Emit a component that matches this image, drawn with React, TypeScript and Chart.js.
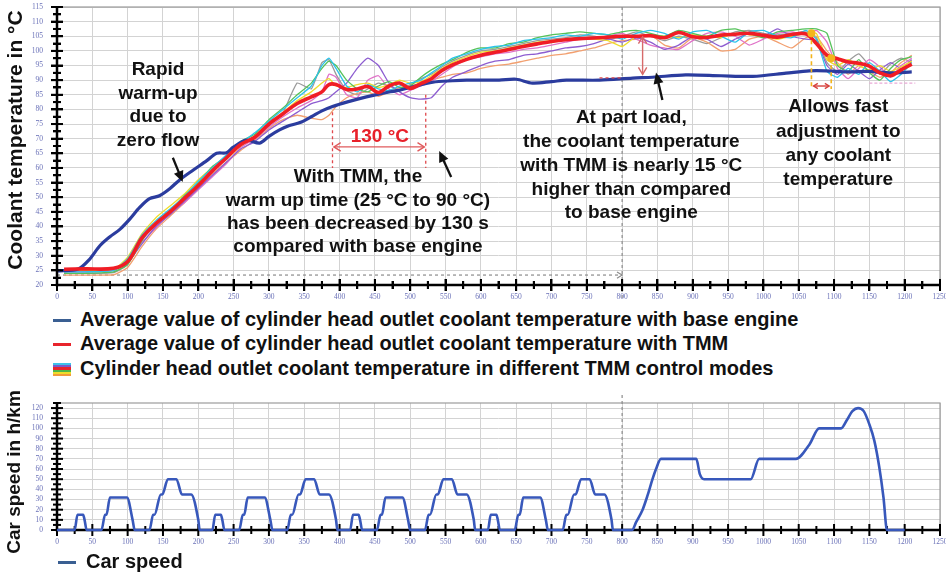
import React, { useEffect, useRef, useState } from "react";
import { Chart, registerables } from "chart.js";

Chart.register(...registerables);

// ---------------- data ----------------
const TMM_TIME_S = [
  10, 40, 80,
  100, 120, 140, 160, 180, 200, 220, 240, 260, 280, 300, 320, 340, 360,
  375, 385, 395,
  410, 425, 440, 455, 470, 485, 500, 515, 530, 545,
  560, 580, 600, 620, 640, 660, 680, 700, 720, 740, 760, 780, 800, 820, 840, 860, 880, 900, 920, 940, 960, 980, 1000, 1020, 1040, 1060,
  1075, 1090, 1105, 1120, 1135, 1150, 1165, 1180, 1195, 1210,
];
const TMM_AVG_C = [
  25.4, 25.5, 25.7,
  28, 36, 41, 45, 49.5, 54, 59, 63.5, 68, 70.5, 75, 78.5, 82, 84.3,
  86, 88.5, 88.5,
  86.8, 87, 87.8, 85.8, 88, 89, 87.2, 88.8, 90.5, 93.3,
  95.2, 97.1, 98.5, 99.5, 100.5, 101.5, 102.4, 103.2, 103.8, 104.2, 104.4, 104.7, 105, 105, 105.2, 104.5, 106.3, 104.8, 104.6, 105.4, 105.7, 106, 105.3, 104.7, 105.6, 105.8,
  102.5, 98.5, 97.3, 96.2, 95.8, 94.8, 92.5, 91.5, 93.5, 95.5,
];
const MODE_CYAN_C = [
  24.5, 24.5, 25,
  29, 37, 42, 46, 50, 55.5, 60, 64.5, 68.5, 72, 76, 80, 84, 88,
  95, 97.5, 94,
  88, 86, 88.5, 87, 86.5, 88, 89, 90, 92.5, 95,
  97.5, 99, 100.5, 101.5, 102, 103.5, 104, 104.5, 105.5, 105, 106, 105.5, 104, 106, 107, 106, 104, 106.5, 107, 105, 103, 106.5, 107, 105, 104.5, 107,
  104, 93, 91, 94, 92, 96, 93, 89.5, 92, 96,
];
const MODE_GREEN_C = [
  24, 24, 24.5,
  27, 35, 41.5, 45.5, 50.5, 55, 60.5, 64, 69, 71.5, 76.5, 80.5, 85, 89,
  94, 96.5, 95,
  90, 87, 86, 88, 89.5, 87.5, 88, 91, 93.5, 95.5,
  97, 99.5, 101, 101, 102.5, 103, 104.5, 105.5, 106, 106.5, 106, 105.5, 106.5, 107, 106, 105, 107, 106, 105, 107, 107.5, 106, 104.5, 106.5, 107, 107.5,
  107.5, 106, 95, 93, 97, 92.5, 90, 94, 97, 98,
];
const MODE_PURPLE_C = [
  24.5, 24.5, 25,
  27.5, 34, 40, 44, 48.5, 53, 57.5, 62, 66.5, 69, 73, 76, 79, 82,
  83, 84, 86,
  89, 94, 97.5, 95, 89, 86, 84, 83.5, 84, 88,
  91, 93, 95, 96.5, 97, 98.5, 99, 100, 101, 101.5, 102.5, 104, 103, 104.5, 103, 100.5, 102, 105, 104, 101.5, 104, 106, 105, 107.5, 105, 104,
  103.5, 95, 92, 95.5, 93, 90.5, 93.5, 96, 94, 97,
];
const MODE_MAGENTA_C = [
  25, 25, 25.5,
  28, 34.5, 39.5, 44.5, 48, 52.5, 57, 61.5, 67, 70, 74, 77.5, 80.5, 83,
  86, 92, 91,
  85, 84, 90, 91.5, 87, 85, 86.5, 88, 89.5, 92,
  94.5, 97, 98, 99, 99.5, 100.5, 101, 102, 103, 104, 104.5, 105, 106, 104, 102, 101, 100.5, 103.5, 106, 106.5, 105, 102, 104, 106, 106.5, 105.5,
  107, 103, 94, 90.5, 94, 97, 94.5, 91, 95, 97.5,
];
const MODE_ORANGE_C = [
  23.4, 23.4, 23.5,
  26, 33, 39, 43.5, 48, 53, 58, 62, 66, 69.5, 73.5, 76.5, 78, 77,
  76.5, 78, 81,
  84, 85.5, 86, 84.5, 86, 87.5, 88, 89, 90, 91,
  92, 92.5, 94, 95, 95.5, 96.5, 97.5, 98.5, 99, 100, 101, 102.5, 103.5, 104, 105.5, 102, 101, 104.5, 103, 100, 100.5, 104, 105, 103, 101, 104.5,
  105, 100, 96, 92, 95, 93, 91, 92.5, 96, 98.5,
];
const MODE_YELLOW_C = [
  25, 25, 25.3,
  29.5, 37.5, 43, 47, 51, 56, 60, 63, 67.5, 71, 75.5, 79, 83, 86,
  89, 90.5, 88,
  87.5, 88.5, 89, 87.5, 88.5, 90, 89, 89.5, 91.5, 94,
  96, 98, 99.5, 100, 101, 102, 103, 103.5, 104, 104.5, 104, 103.5, 101.5, 105, 105.5, 105, 104.5, 105.5, 105, 104.5, 106, 105.5, 105, 104, 105, 106,
  106, 97, 95, 97, 95, 93.5, 95, 93, 94.5, 96.5,
];
const MODE_GRAY_C = [
  24, 24, 24.2,
  27, 35.5, 40.5, 45, 49, 54.5, 59.5, 63, 68, 70, 74.5, 79, 89, 87,
  96, 97, 92,
  86.5, 85, 87, 89, 88, 86.5, 88.5, 90.5, 92, 94.5,
  96.5, 98.5, 100, 100.5, 101.5, 102.5, 103.5, 104, 104.5, 105.5, 105, 104, 105, 106.5, 105, 103.5, 105, 104, 102.5, 104.5, 106.5, 107, 106, 105.5, 106, 106.5,
  104.5, 96, 93, 96.5, 99, 95, 92, 95.5, 97.5, 96,
];
const FLAT_MODE_TIME_S = [1150, 1215];
const FLAT_MODE_C = [89, 89];

const BASE_TIME_S = [
  0, 30, 45, 61, 75, 89, 103, 117, 131, 145, 160, 174, 193, 212, 226, 240, 249, 268, 287, 300,
  315, 329, 344, 360, 375, 390, 410, 438, 460, 485, 500, 532, 560, 580, 626, 650, 673, 700, 721, 768,
  815, 843, 890, 940, 985, 1032, 1065, 1089, 1120, 1150, 1180, 1210,
];
const BASE_TEMP_C = [
  24.8, 25.5, 28.5, 33.5, 36.5, 39, 42.5, 46.5, 49.5, 50.5, 53, 56, 59.3, 62.5, 65, 65.2, 67, 69.5, 68.5, 70.8,
  73, 74.5, 75.5, 77.5, 79.5, 81, 82.5, 84.3, 85.5, 86.6, 87.5, 89.3, 89.8, 90, 90, 90.3, 89, 89.5, 90, 90,
  90.7, 91, 91.8, 91.5, 91.3, 92.4, 93.2, 93.2, 92.8, 93, 92.5, 92.8,
];

const SPEED_TIME_S = [
  0, 25, 29, 37, 39, 42, 63, 68, 70, 75, 99, 107, 110, 131, 136, 138, 147, 149, 157, 169, 177, 190, 200, 202,
  220, 224, 232, 234, 237, 258, 263, 265, 270, 294, 302, 305, 326, 331, 333, 342, 344, 352, 364, 372, 385, 395, 397,
  415, 419, 427, 429, 432, 453, 458, 460, 465, 489, 497, 500, 521, 526, 528, 537, 539, 547, 559, 567, 580, 590, 592,
  610, 614, 622, 624, 627, 648, 653, 655, 660, 684, 692, 695, 716, 721, 723, 732, 734, 742, 754, 762, 775, 785, 787,
  814, 820, 829, 836, 843, 848, 855, 905, 910, 916, 982, 994, 1046, 1065, 1079, 1110, 1118, 1126, 1134, 1142, 1150, 1157, 1164, 1170, 1175, 1200,
];
const SPEED_KMH = [
  0, 0, 15, 15, 10, 0, 0, 15, 15, 32, 32, 10, 0, 0, 15, 15, 35, 35, 50, 50, 35, 35, 10, 0,
  0, 15, 15, 10, 0, 0, 15, 15, 32, 32, 10, 0, 0, 15, 15, 35, 35, 50, 50, 35, 35, 10, 0,
  0, 15, 15, 10, 0, 0, 15, 15, 32, 32, 10, 0, 0, 15, 15, 35, 35, 50, 50, 35, 35, 10, 0,
  0, 15, 15, 10, 0, 0, 15, 15, 32, 32, 10, 0, 0, 15, 15, 35, 35, 50, 50, 35, 35, 10, 0,
  0, 8, 20, 34, 50, 60, 70, 70, 55, 50, 50, 70, 70, 84, 100, 100, 108, 117, 120, 117, 104, 88, 62, 32, 0, 0,
];

const TIME_TICKS = [0, 50, 100, 150, 200, 250, 300, 350, 400, 450, 500, 550, 600, 650, 700, 750, 800, 850, 900, 950, 1000, 1050, 1100, 1150, 1200, 1250];
const TEMP_TICKS = [20, 25, 30, 35, 40, 45, 50, 55, 60, 65, 70, 75, 80, 85, 90, 95, 100, 105, 110, 115];
const SPEED_TICKS = [0, 10, 20, 30, 40, 50, 60, 70, 80, 90, 100, 110, 120];
const SPEED_MAX = 125;
const DIVIDER_S = 800;

const TOP_TITLE = "Coolant temperature in °C";
const BOTTOM_TITLE = "Car speed in h/km";
const LEGEND_BASE = "Average value of cylinder head outlet coolant temperature with base engine";
const LEGEND_TMM = "Average value of cylinder head outlet coolant temperature with TMM";
const LEGEND_MODES = "Cylinder head outlet coolant temperature in different TMM control modes";
const LEGEND_SPEED = "Car speed";

const NOTE_ZERO_FLOW = ["Rapid", "warm-up", "due to", "zero flow"];
const NOTE_WARMUP = ["With TMM, the", "warm up time (25 °C to 90 °C)", "has been decreased by 130 s", "compared with base engine"];
const NOTE_PART_LOAD = ["At part load,", "the coolant temperature", "with TMM is nearly 15 °C", "higher than compared", "to base engine"];
const NOTE_FAST = ["Allows fast", "adjustment to", "any coolant", "temperature"];
const NOTE_130 = "130 °C";

// ---------------- helpers ----------------
const SANS = '"Liberation Sans", Arial, Helvetica, sans-serif';
const TICK_FONT = '7.5px "Liberation Serif", serif';
const TICK_COLOR = "#6b72b8";
const GRID_COLOR = "#d3d3d3";
const BOTTOM_CANVAS_TOP = 385;

type Box = { l: number; t: number; w: number; h: number };

const pts = (xs: number[], ys: number[]) => xs.map((x, i) => ({ x, y: ys[i] }));

function seg(ctx: CanvasRenderingContext2D, x1: number, y1: number, x2: number, y2: number) {
  ctx.beginPath();
  ctx.moveTo(x1, y1);
  ctx.lineTo(x2, y2);
  ctx.stroke();
}
function chevron(ctx: CanvasRenderingContext2D, x: number, y: number, ang: number, L: number) {
  ctx.beginPath();
  ctx.moveTo(x - L * Math.cos(ang - 0.55), y - L * Math.sin(ang - 0.55));
  ctx.lineTo(x, y);
  ctx.lineTo(x - L * Math.cos(ang + 0.55), y - L * Math.sin(ang + 0.55));
  ctx.stroke();
}
function doubleArrow(ctx: CanvasRenderingContext2D, x1: number, y1: number, x2: number, y2: number, L: number) {
  seg(ctx, x1, y1, x2, y2);
  const a = Math.atan2(y2 - y1, x2 - x1);
  chevron(ctx, x2, y2, a, L);
  chevron(ctx, x1, y1, a + Math.PI, L);
}
function filledArrow(ctx: CanvasRenderingContext2D, x1: number, y1: number, x2: number, y2: number) {
  const a = Math.atan2(y2 - y1, x2 - x1);
  const L = 11;
  const W = 5;
  ctx.strokeStyle = "#111";
  ctx.fillStyle = "#111";
  ctx.lineWidth = 2.3;
  seg(ctx, x1, y1, x2 - Math.cos(a) * L * 0.7, y2 - Math.sin(a) * L * 0.7);
  ctx.beginPath();
  ctx.moveTo(x2, y2);
  ctx.lineTo(x2 - L * Math.cos(a) + W * Math.sin(a), y2 - L * Math.sin(a) - W * Math.cos(a));
  ctx.lineTo(x2 - L * Math.cos(a) - W * Math.sin(a), y2 - L * Math.sin(a) + W * Math.cos(a));
  ctx.closePath();
  ctx.fill();
}
function textBlock(ctx: CanvasRenderingContext2D, lines: string[], cx: number, cy: number, lh: number) {
  lines.forEach((l, i) => ctx.fillText(l, cx, cy + i * lh));
}
function drawLabels(chart: any, yTicks: number[]) {
  const ctx = chart.ctx;
  const a = chart.chartArea;
  const sx = chart.scales.x;
  const sy = chart.scales.y;
  ctx.save();
  ctx.fillStyle = TICK_COLOR;
  ctx.font = TICK_FONT;
  ctx.textAlign = "right";
  ctx.textBaseline = "middle";
  yTicks.forEach((v) => ctx.fillText(String(v), a.left - 14, sy.getPixelForValue(v)));
  ctx.textAlign = "center";
  TIME_TICKS.forEach((t) => ctx.fillText(String(t), sx.getPixelForValue(t), a.bottom + 12.5));
  ctx.restore();
}
// black "ladder" axes, computed from the chart's own scales
function ladderBoxes(chart: any, offsetY: number, y0: number, yMax: number, minorY: number, majorY: number): Box[] {
  const a = chart.chartArea;
  const sx = chart.scales.x;
  const sy = chart.scales.y;
  const out: Box[] = [];
  out.push({ l: a.left - 1.25, t: offsetY + a.top, w: 2.5, h: a.bottom - a.top + 1.25 });
  out.push({ l: a.left - 1.25, t: offsetY + a.bottom - 1.25, w: a.right - a.left + 1.25, h: 2.5 });
  for (let v = y0; v <= yMax + 1e-6; v += minorY) {
    const yy = sy.getPixelForValue(v);
    const big = Math.abs(v / majorY - Math.round(v / majorY)) < 1e-6;
    const len = big ? 6 : 4;
    out.push({ l: a.left - len, t: offsetY + yy - 1, w: len * 2, h: 2 });
  }
  for (let t = 0; t <= 1250; t += 25) {
    const xx = sx.getPixelForValue(t);
    const len = t % 50 === 0 ? 6 : 4;
    out.push({ l: xx - 1, t: offsetY + a.bottom - len, w: 2, h: len * 2 });
  }
  return out;
}
function drawLadder(chart: any, y0: number, yMax: number, minorY: number, majorY: number) {
  const ctx = chart.ctx;
  ctx.save();
  ctx.globalAlpha = 1;
  ctx.globalCompositeOperation = "source-over";
  ctx.fillStyle = "#000";
  ladderBoxes(chart, 0, y0, yMax, minorY, majorY).forEach((b) => ctx.fillRect(b.l, b.t, b.w, b.h));
  ctx.restore();
}
function drawTitle(chart: any, text: string, cx: number, cy: number, size: number) {
  const ctx = chart.ctx;
  ctx.save();
  ctx.translate(cx, cy);
  ctx.rotate(-Math.PI / 2);
  ctx.font = `bold ${size}px ${SANS}`;
  ctx.fillStyle = "#111";
  ctx.textAlign = "center";
  ctx.textBaseline = "middle";
  ctx.fillText(text, 0, 0);
  ctx.restore();
}

const topDecor = {
  id: "topDecor",
  beforeDatasetsDraw(chart: any) {
    const ctx = chart.ctx;
    const a = chart.chartArea;
    const x = chart.scales.x;
    const y = chart.scales.y;
    ctx.save();
    ctx.strokeStyle = "#9c9c9c";
    ctx.lineWidth = 1.2;
    ctx.strokeRect(a.left, a.top, a.right - a.left, a.bottom - a.top);
    ctx.setLineDash([3, 3]);
    ctx.strokeStyle = "#8c8c8c";
    ctx.lineWidth = 1.2;
    const xd = x.getPixelForValue(DIVIDER_S);
    seg(ctx, xd, a.top, xd, a.bottom + 14);
    const yb = y.getPixelForValue(23.4);
    seg(ctx, x.getPixelForValue(0), yb, xd, yb);
    ctx.setLineDash([]);
    chevron(ctx, xd, yb, 0, 6);
    ctx.restore();
  },
  afterDraw(chart: any) {
    const ctx = chart.ctx;
    const X = (t: number) => chart.scales.x.getPixelForValue(t);
    const Y = (v: number) => chart.scales.y.getPixelForValue(v);
    ctx.save();
    ctx.strokeStyle = "#e0484c";
    ctx.lineWidth = 1.3;
    ctx.setLineDash([3, 3]);
    seg(ctx, X(390), Y(79), X(390), Y(60));
    seg(ctx, X(522), Y(85), X(522), Y(60));
    seg(ctx, X(768), Y(90.8), X(800), Y(90.8));
    ctx.setLineDash([]);
    ctx.strokeStyle = "#e05a5c";
    ctx.lineWidth = 1.4;
    doubleArrow(ctx, X(392), Y(67.2), X(520), Y(67.2), 8);
    ctx.strokeStyle = "#d76a6a";
    doubleArrow(ctx, X(829), Y(104.8), X(829), Y(92), 8);

    ctx.strokeStyle = "#f3b41a";
    ctx.lineWidth = 1.6;
    ctx.setLineDash([4, 3]);
    seg(ctx, X(1068), Y(106), X(1068), Y(87));
    seg(ctx, X(1096), Y(97.5), X(1096), Y(87));
    ctx.setLineDash([]);
    ctx.fillStyle = "#f4b51c";
    ctx.beginPath();
    ctx.arc(X(1068), Y(106), 4, 0, Math.PI * 2);
    ctx.fill();
    ctx.beginPath();
    ctx.arc(X(1096), Y(97.5), 4, 0, Math.PI * 2);
    ctx.fill();
    ctx.strokeStyle = "#d6403c";
    ctx.lineWidth = 1.4;
    doubleArrow(ctx, X(1071), Y(88), X(1093), Y(88), 5);

    filledArrow(ctx, X(164), Y(63.5), X(178), Y(55.2));
    filledArrow(ctx, X(558), Y(56.9), X(541), Y(65.8));
    filledArrow(ctx, X(857), Y(83.2), X(848), Y(92.6));

    ctx.textAlign = "center";
    ctx.textBaseline = "middle";
    ctx.font = `bold 19px ${SANS}`;
    ctx.fillStyle = "#e8202a";
    ctx.fillText(NOTE_130, X(457), Y(70.8));
    ctx.fillStyle = "#111";
    textBlock(ctx, NOTE_ZERO_FLOW, X(143), Y(93.5), 23.6);
    textBlock(ctx, NOTE_WARMUP, X(426), Y(56.9), 23.4);
    textBlock(ctx, NOTE_PART_LOAD, X(813), Y(77.1), 23.8);
    textBlock(ctx, NOTE_FAST, X(1106), Y(80.8), 24.3);
    ctx.restore();
    drawTitle(chart, TOP_TITLE, 16, 140, 21);
    drawLabels(chart, TEMP_TICKS);
    drawLadder(chart, TEMP_TICKS[0], TEMP_TICKS[TEMP_TICKS.length - 1], 2.5, 5);
  },
};

const bottomDecor = {
  id: "bottomDecor",
  beforeDatasetsDraw(chart: any) {
    const ctx = chart.ctx;
    const a = chart.chartArea;
    ctx.save();
    ctx.strokeStyle = "#9c9c9c";
    ctx.lineWidth = 1.2;
    ctx.strokeRect(a.left, a.top, a.right - a.left, a.bottom - a.top);
    ctx.setLineDash([3, 3]);
    ctx.strokeStyle = "#8c8c8c";
    const xd = chart.scales.x.getPixelForValue(DIVIDER_S);
    seg(ctx, xd, a.top - 8, xd, a.bottom);
    ctx.restore();
    drawLadder(chart, 0, SPEED_MAX, 5, 10);
  },
  afterDraw(chart: any) {
    drawTitle(chart, BOTTOM_TITLE, 15, 87, 19);
    drawLabels(chart, SPEED_TICKS);
  },
};

function xScale(height: number) {
  return {
    type: "linear" as const,
    min: TIME_TICKS[0],
    max: TIME_TICKS[TIME_TICKS.length - 1],
    border: { display: false },
    grid: { color: GRID_COLOR, lineWidth: 1, drawTicks: false },
    ticks: { display: false },
    afterBuildTicks(s: any) {
      s.ticks = TIME_TICKS.map((value) => ({ value }));
    },
    afterFit(s: any) {
      s.height = height;
    },
  };
}
function yScale(ticks: number[], min: number, max: number) {
  return {
    type: "linear" as const,
    min,
    max,
    border: { display: false },
    grid: { color: GRID_COLOR, lineWidth: 1, drawTicks: false },
    ticks: { display: false },
    afterBuildTicks(s: any) {
      s.ticks = ticks.map((value) => ({ value }));
    },
    afterFit(s: any) {
      s.width = 57;
    },
  };
}

export default function App() {
  const topRef = useRef<HTMLCanvasElement>(null);
  const botRef = useRef<HTMLCanvasElement>(null);
  const [axes, setAxes] = useState<Box[]>([]);

  useEffect(() => {
    const thin = (data: number[], color: string) => ({
      data: pts(TMM_TIME_S, data),
      borderColor: color,
      borderWidth: 1.3,
      pointRadius: 0,
      tension: 0.15,
    });
    const top = new Chart(topRef.current as HTMLCanvasElement, {
      type: "line",
      data: {
        datasets: [
          { data: pts(TMM_TIME_S, TMM_AVG_C), borderColor: "#f01d25", borderWidth: 3.6, pointRadius: 0, tension: 0.35 },
          { data: pts(BASE_TIME_S, BASE_TEMP_C), borderColor: "#2b3c9e", borderWidth: 3.2, pointRadius: 0, tension: 0.3 },
          thin(MODE_CYAN_C, "#2cc3ea"),
          thin(MODE_GREEN_C, "#55c25a"),
          thin(MODE_YELLOW_C, "#efdc2c"),
          thin(MODE_PURPLE_C, "#8d5dd0"),
          thin(MODE_MAGENTA_C, "#e072c8"),
          thin(MODE_ORANGE_C, "#f2a070"),
          thin(MODE_GRAY_C, "#9a9a9a"),
          { data: pts(FLAT_MODE_TIME_S, FLAT_MODE_C), borderColor: "#e9a9d6", borderWidth: 1.3, pointRadius: 0, borderDash: [3, 2] },
        ],
      },
      options: {
        responsive: false,
        animation: false,
        devicePixelRatio: 1,
        layout: { padding: { top: 7, right: 6, left: 0, bottom: 0 } },
        plugins: { legend: { display: false }, tooltip: { enabled: false } },
        scales: {
          x: xScale(15),
          y: yScale(TEMP_TICKS, TEMP_TICKS[0], TEMP_TICKS[TEMP_TICKS.length - 1]),
        },
      },
      plugins: [topDecor],
    });

    const bot = new Chart(botRef.current as HTMLCanvasElement, {
      type: "line",
      data: {
        datasets: [
          {
            data: pts(SPEED_TIME_S, SPEED_KMH),
            borderColor: "#3858bb",
            borderWidth: 2.6,
            pointRadius: 0,
            cubicInterpolationMode: "monotone",
            clip: 6,
          },
        ],
      },
      options: {
        responsive: false,
        animation: false,
        devicePixelRatio: 1,
        layout: { padding: { top: 18, right: 6, left: 0, bottom: 0 } },
        plugins: { legend: { display: false }, tooltip: { enabled: false } },
        scales: {
          x: xScale(44),
          y: yScale(SPEED_TICKS, SPEED_TICKS[0], SPEED_MAX),
        },
      },
      plugins: [bottomDecor],
    });

    try {
      setAxes([
        ...ladderBoxes(top, 0, TEMP_TICKS[0], TEMP_TICKS[TEMP_TICKS.length - 1], 2.5, 5),
        ...ladderBoxes(bot, BOTTOM_CANVAS_TOP, 0, SPEED_MAX, 5, 10).slice(0, 1),
      ]);
    } catch (e) {
      setAxes([]);
    }

    return () => {
      top.destroy();
      bot.destroy();
    };
  }, []);

  const legendText: React.CSSProperties = {
    position: "absolute",
    left: 80,
    height: 24,
    lineHeight: "24px",
    font: `bold 20px ${SANS}`,
    color: "#111",
    whiteSpace: "nowrap",
  };
  const dash = (top: number, left: number, color: string): React.CSSProperties => ({
    position: "absolute",
    left,
    top,
    width: 18,
    height: 3,
    background: color,
  });
  const stripes = ["#3ec3ea", "#7a5cc8", "#e8242c", "#4fb64a", "#f0dc2a", "#f29a3a"];

  return (
    <div style={{ position: "absolute", left: 0, top: 0, width: 946, height: 574, background: "#fff", overflow: "hidden" }}>
      {axes.map((b, i) => (
        <div
          key={i}
          style={{ position: "absolute", left: b.l, top: b.t, width: b.w, height: b.h, background: "#000", pointerEvents: "none" }}
        />
      ))}
      <canvas ref={topRef} width={946} height={300} style={{ position: "absolute", left: 0, top: 0, width: 946, height: 300 }} />
      <div style={dash(319, 53, "#3a5f92")} />
      <div style={{ ...legendText, top: 308 }}>{LEGEND_BASE}</div>
      <div style={dash(343, 53, "#e8242c")} />
      <div style={{ ...legendText, top: 332 }}>{LEGEND_TMM}</div>
      <div style={{ position: "absolute", left: 53, top: 363, width: 18 }}>
        {stripes.map((c) => (
          <div key={c} style={{ height: 2.2, background: c }} />
        ))}
      </div>
      <div style={{ ...legendText, top: 357 }}>{LEGEND_MODES}</div>
      <canvas
        ref={botRef}
        width={946}
        height={189}
        style={{ position: "absolute", left: 0, top: BOTTOM_CANVAS_TOP, width: 946, height: 189 }}
      />
      <div style={dash(561, 58, "#3a5f92")} />
      <div style={{ ...legendText, left: 86, top: 550 }}>{LEGEND_SPEED}</div>
    </div>
  );
}
